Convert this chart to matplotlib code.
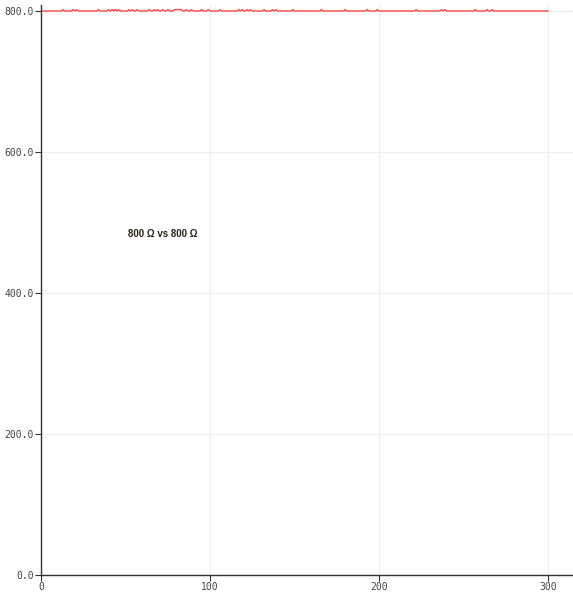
import matplotlib
matplotlib.use('Agg')
import matplotlib.pyplot as plt

# samples 0..300, level 800 with single-sample blips slightly above it
x_vals = list(range(0, 301))
base_level = 800
blip_level = 802
blip_x = [13, 19, 21, 34, 40, 42, 44, 46, 52, 54, 57, 64, 67, 69, 72, 75,
          79, 80, 81, 82, 83, 86, 89, 95, 99, 106, 117, 119, 122, 124, 132,
          137, 139, 149, 166, 180, 193, 199, 222, 237, 239, 257, 264, 267]
y_vals = [blip_level if xv in blip_x else base_level for xv in x_vals]

x_ticks = [0, 100, 200, 300]
y_ticks = [0, 200, 400, 600, 800]
label = '800 \u03a9 vs 800 \u03a9'

fig = plt.figure(figsize=(5.73, 5.99), dpi=100)
ax = fig.add_axes([41/573, 24/599, 532/573, 570/599])

ax.plot(x_vals, y_vals, color='#ff4444', lw=1.0)

ax.set_xlim(0, 532/1.69)
ax.set_ylim(0, 570/0.705)
ax.set_xticks(x_ticks)
ax.set_yticks(y_ticks)
ax.set_yticklabels(['%.1f' % v for v in y_ticks])
ax.grid(True, color='#efefef', lw=0.8)
ax.set_axisbelow(True)

for s in ['top', 'right']:
    ax.spines[s].set_visible(False)
for s in ['left', 'bottom']:
    ax.spines[s].set_color('#333333')
    ax.spines[s].set_linewidth(1.0)

ax.tick_params(direction='out', length=4, width=0.8, color='#333333',
               labelsize=7, labelcolor='#444444', pad=1)
for t in ax.get_xticklabels() + ax.get_yticklabels():
    t.set_family('DejaVu Sans Mono')

ax.text(0.228, 0.599, label, transform=ax.transAxes, ha='center', va='center',
        fontsize=7, fontweight='bold', color='#2a2418',
        family=['Liberation Sans Narrow', 'Liberation Sans', 'DejaVu Sans'])

fig.savefig('out.png', dpi=100)
